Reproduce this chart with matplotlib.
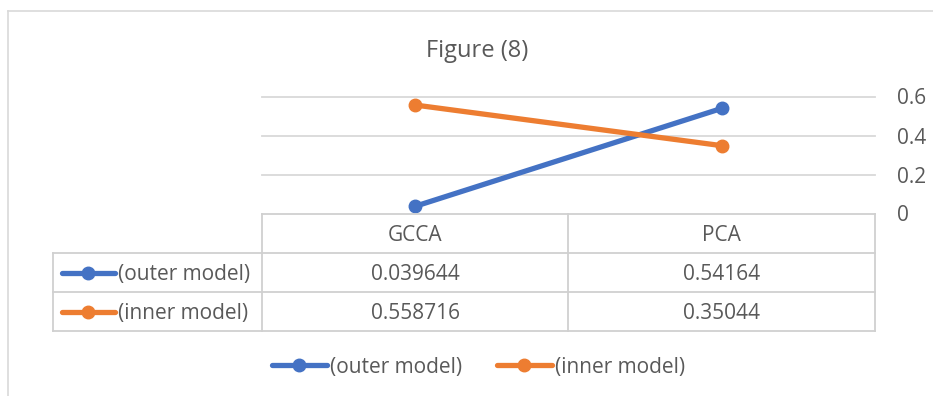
import matplotlib
matplotlib.use("Agg")
import matplotlib.pyplot as plt
from matplotlib.lines import Line2D

categories = ["GCCA", "PCA"]
series_names = ["(outer model)", "(inner model)"]
outer_values = [0.039644, 0.54164]
inner_values = [0.558716, 0.35044]
y_ticks = [0, 0.2, 0.4, 0.6]
title = "Figure (8)"

colors = ["#4472C4", "#ED7D31"]
text_color = "#595959"
grid_color = "#D9D9D9"
FONT = ["Open Sans", "DejaVu Sans"]
FS = 15
DY = 2  # small downward nudge for text

W, H = 933, 396
fig = plt.figure(figsize=(W / 100, H / 100), dpi=100)

def fx(x):
    return x / W

def fy(y):
    return 1 - y / H

def hline(x0, x1, y, **kw):
    fig.add_artist(Line2D([fx(x0), fx(x1)], [fy(y), fy(y)], transform=fig.transFigure, **kw))

def vline(x, y0, y1, **kw):
    fig.add_artist(Line2D([fx(x), fx(x)], [fy(y0), fy(y1)], transform=fig.transFigure, **kw))

# outer frame (left and top visible)
hline(8, 933, 11, color=grid_color, lw=1.2)
vline(8, 11, 396, color=grid_color, lw=1.2)

# plot area
left, right, top, bottom = 262, 875, 97, 214
ax = fig.add_axes([fx(left), fy(bottom), fx(right) - fx(left), (bottom - top) / H])
ax.set_xlim(-0.5, len(categories) - 0.5)
ax.set_ylim(0, 0.6)
for s in ax.spines.values():
    s.set_visible(False)
ax.set_xticks([])
ax.set_yticks([])
for t in y_ticks[1:]:
    ax.axhline(t, color=grid_color, lw=1.3, zorder=0, clip_on=False)
for t in y_ticks:
    fig.text(fx(897), fy(bottom - t / 0.6 * (bottom - top) + DY), f"{t:g}", ha="left", va="center",
             fontsize=FS, color=text_color, family=FONT)

xs = list(range(len(categories)))
for vals, c in zip([outer_values, inner_values], colors):
    ax.plot(xs, vals, color=c, lw=3.8, marker="o", markersize=9, clip_on=False,
            solid_capstyle="round", zorder=3)

# title
fig.text(fx(477), fy(51), title, ha="center", va="center", fontsize=17, color=text_color, family=FONT)

# data table
row_y = [214, 253, 292, 331]
col_x = [53, 262, 568, 875]
tc = "#D0D0D0"
hline(262, 875, 214, color=tc, lw=1.3)
for y in row_y[1:]:
    hline(53, 875, y, color=tc, lw=1.3)
vline(262, 214, 331, color=tc, lw=1.3)
vline(568, 214, 331, color=tc, lw=1.3)
vline(875, 214, 331, color=tc, lw=1.3)
vline(53, 253, 331, color=tc, lw=1.3)

for j, cat in enumerate(categories):
    cx = (col_x[j + 1] + col_x[j + 2]) / 2
    fig.text(fx(cx), fy((row_y[0] + row_y[1]) / 2 + DY), cat, ha="center", va="center",
             fontsize=FS, color=text_color, family=FONT)

for i, (name, vals, c) in enumerate(zip(series_names, [outer_values, inner_values], colors)):
    cy = (row_y[i + 1] + row_y[i + 2]) / 2
    fig.add_artist(Line2D([fx(62), fx(115)], [fy(cy), fy(cy)], transform=fig.transFigure,
                          color=c, lw=3.8, solid_capstyle="round"))
    fig.add_artist(Line2D([fx(88)], [fy(cy)], transform=fig.transFigure, color=c,
                          marker="o", markersize=9, lw=0))
    fig.text(fx(118), fy(cy + DY), name, ha="left", va="center", fontsize=FS, color=text_color, family=FONT)
    for j, v in enumerate(vals):
        cx = (col_x[j + 1] + col_x[j + 2]) / 2
        fig.text(fx(cx), fy(cy + DY), f"{v:g}", ha="center", va="center", fontsize=FS,
                 color=text_color, family=FONT)

# bottom legend
leg_y = 365
for (x0, name, c) in zip([272, 497], series_names, colors):
    fig.add_artist(Line2D([fx(x0), fx(x0 + 55)], [fy(leg_y), fy(leg_y)], transform=fig.transFigure,
                          color=c, lw=3.8, solid_capstyle="round"))
    fig.add_artist(Line2D([fx(x0 + 27)], [fy(leg_y)], transform=fig.transFigure, color=c,
                          marker="o", markersize=9, lw=0))
    fig.text(fx(x0 + 58), fy(leg_y + DY), name, ha="left", va="center", fontsize=FS,
             color=text_color, family=FONT)

fig.savefig("out.png", dpi=100)
